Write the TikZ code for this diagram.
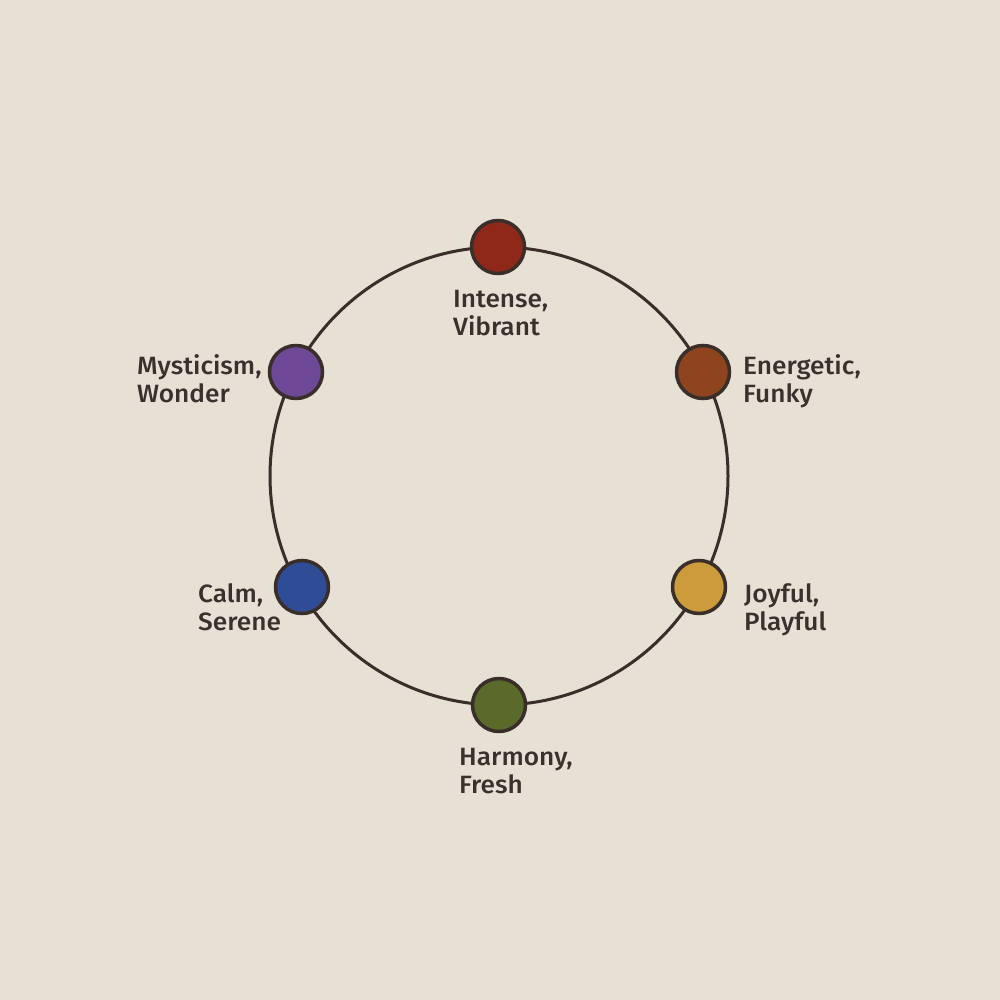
\documentclass[tikz,border=0pt]{standalone}
\usepackage{fontspec}
\setmainfont{Fira Sans}[UprightFont={* Medium},FakeStretch=1.05]
\definecolor{bg}{HTML}{E6E0D5}
\definecolor{ink}{HTML}{3A2E2A}
\definecolor{txt}{HTML}{3A302C}
\definecolor{cRed}{HTML}{8F2819}
\definecolor{cOrange}{HTML}{8E451E}
\definecolor{cGold}{HTML}{CC9B3B}
\definecolor{cGreen}{HTML}{596A2A}
\definecolor{cBlue}{HTML}{2F4C97}
\definecolor{cPurple}{HTML}{6D4998}
\begin{document}
\begin{tikzpicture}[x=1pt,y=-1pt,
  dot/.style={circle,draw=ink,line width=3.5pt,minimum size=53pt,inner sep=0pt},
  lbl/.style={text=txt,font=\fontsize{25}{28}\selectfont,align=left,inner sep=0pt,anchor=north west},
  ring/.style={draw=ink,line width=3pt}]
\fill[bg] (0,0) rectangle (1000,1000);
\useasboundingbox (0,0) rectangle (1000,1000);
\coordinate (c) at (499,476);
\draw[ring] (c) circle (229);
\node[dot,fill=cRed]    (d1) at (498,247) {};
\node[dot,fill=cOrange] (d2) at (703,372) {};
\node[dot,fill=cGold]   (d3) at (699,587) {};
\node[dot,fill=cGreen]  (d4) at (499,705) {};
\node[dot,fill=cBlue]   (d5) at (302,587) {};
\node[dot,fill=cPurple] (d6) at (296,372) {};
\node[lbl] (l1) at (453,290) {Intense,\\Vibrant};
\node[lbl] (l2) at (743,354) {Energetic,\\Funky};
\node[lbl] (l3) at (744,583) {Joyful,\\Playful};
\node[lbl] (l4) at (459,748) {Harmony,\\Fresh};
\node[lbl] (l5) at (198,583) {Calm,\\Serene};
\node[lbl] (l6) at (137,354) {Mysticism,\\Wonder};
\end{tikzpicture}
\end{document}
